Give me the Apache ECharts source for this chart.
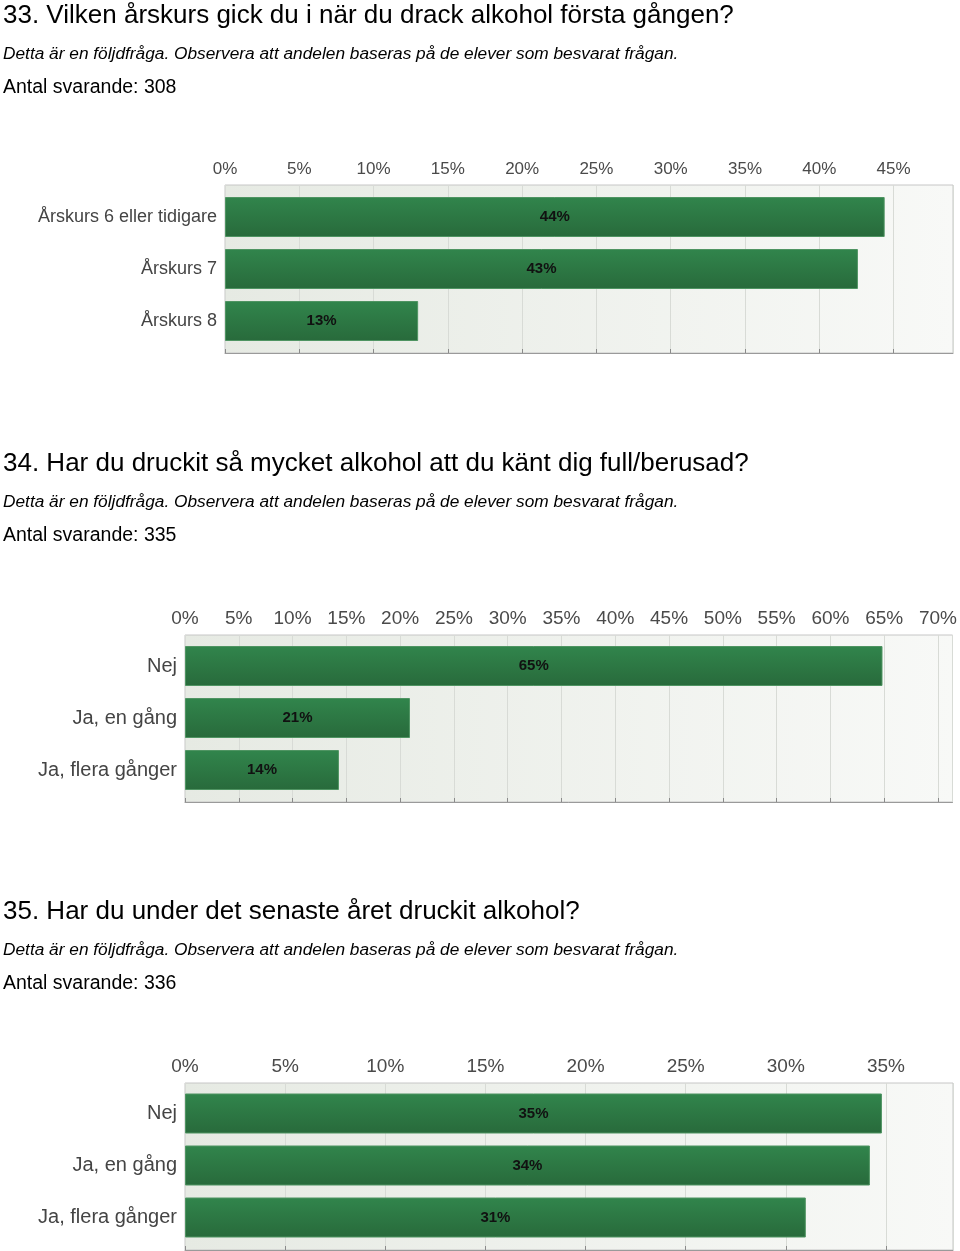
<!DOCTYPE html>
<html>
<head>
<meta charset="utf-8">
<script src="https://cdn.jsdelivr.net/npm/echarts@6/dist/echarts.min.js"></script>
<style>
html,body{margin:0;padding:0;background:#fff;}
#c{width:960px;height:1251px;}
</style>
</head>
<body>
<div id="c"></div>
<script>
// ---- data ----
var titles = [
  '33. Vilken årskurs gick du i när du drack alkohol första gången?',
  '34. Har du druckit så mycket alkohol att du känt dig full/berusad?',
  '35. Har du under det senaste året druckit alkohol?'
];
var noteText = 'Detta är en följdfråga. Observera att andelen baseras på de elever som besvarat frågan.';
var respondents = [308, 335, 336];

var categories1 = ['Årskurs 6 eller tidigare', 'Årskurs 7', 'Årskurs 8'];
var values1 = [44.4, 42.6, 13.0];

var categories2 = ['Nej', 'Ja, en gång', 'Ja, flera gånger'];
var values2 = [64.8, 20.9, 14.3];

var categories3 = ['Nej', 'Ja, en gång', 'Ja, flera gånger'];
var values3 = [34.8, 34.2, 31.0];

var axisMax = [49.0, 71.35, 38.35];
var tickStep = 5;

// ---- layout ----
var layout = [
  {dy: 0,   left: 225, bgTop: 185,  bgH: 168, barTop: 191,    labelSize: 18, tickSize: 17},
  {dy: 448, left: 185, bgTop: 635,  bgH: 167, barTop: 640,    labelSize: 20, tickSize: 19},
  {dy: 896, left: 185, bgTop: 1083, bgH: 167, barTop: 1087.5, labelSize: 20, tickSize: 19}
];
var allCats = [categories1, categories2, categories3];
var allVals = [values1, values2, values3];

var FONT = '"Liberation Sans", Arial, Helvetica, sans-serif';

var option = {
  animation: false,
  backgroundColor: '#ffffff',
  title: [],
  grid: [],
  xAxis: [],
  yAxis: [],
  series: []
};

layout.forEach(function (L, i) {
  option.title.push({
    text: titles[i], left: 3, top: 3 + L.dy, padding: 0,
    textStyle: {fontFamily: FONT, fontSize: 26, fontWeight: 'normal', color: '#000'}
  });
  option.title.push({
    text: noteText, left: 3, top: 46 + L.dy, padding: 0,
    textStyle: {fontFamily: FONT, fontSize: 17.3, fontStyle: 'italic', fontWeight: 'normal', color: '#000'}
  });
  option.title.push({
    text: 'Antal svarande: ' + respondents[i], left: 3, top: 78 + L.dy, padding: 0,
    textStyle: {fontFamily: FONT, fontSize: 19.5, fontWeight: 'normal', color: '#000'}
  });

  var gBg = option.grid.length;
  option.grid.push({
    left: L.left, right: 7, top: L.bgTop, height: L.bgH,
    show: true,
    borderColor: '#c6c6c6', borderWidth: 1,
    backgroundColor: new echarts.graphic.LinearGradient(0, 0, 1, 0, [
      {offset: 0, color: '#e6eae3'},
      {offset: 1, color: '#f8f9f7'}
    ])
  });
  var gBar = option.grid.length;
  option.grid.push({left: L.left, right: 7, top: L.barTop, height: 156});

  // background axis with ticks
  option.xAxis.push({
    type: 'value', gridIndex: gBg, position: 'top',
    min: 0, max: axisMax[i], interval: tickStep,
    axisLine: {show: true, lineStyle: {color: '#9a9a9a', width: 1}},
    axisTick: {show: true, length: 4, lineStyle: {color: '#8a8a8a'}},
    splitLine: {show: true, lineStyle: {color: '#d8dbd6', width: 1}},
    axisLabel: {
      margin: 7, color: '#4a4a4a', fontFamily: FONT, fontSize: L.tickSize,
      showMaxLabel: false,
      formatter: function (v) { return (v % tickStep === 0) ? v + '%' : ''; }
    }
  });
  option.yAxis.push({type: 'value', gridIndex: gBg, show: false, min: 0, max: 1});

  // bar axes
  var xBar = option.xAxis.length;
  option.xAxis.push({type: 'value', gridIndex: gBar, min: 0, max: axisMax[i], show: false});
  var yBar = option.yAxis.length;
  option.yAxis.push({
    type: 'category', gridIndex: gBar, inverse: true,
    data: allCats[i],
    axisLine: {show: false}, axisTick: {show: false},
    axisLabel: {margin: 8, color: '#444', fontFamily: FONT, fontSize: L.labelSize}
  });

  option.series.push({
    type: 'bar', xAxisIndex: xBar, yAxisIndex: yBar,
    data: allVals[i], barWidth: 40,
    itemStyle: {
      color: new echarts.graphic.LinearGradient(0, 0, 0, 1, [
        {offset: 0, color: '#31854c'},
        {offset: 1, color: '#286a3b'}
      ]),
      borderColor: '#4f9462', borderWidth: 1
    },
    label: {
      show: true, position: 'inside',
      formatter: function (p) { return Math.round(p.value) + '%'; },
      fontFamily: FONT, fontSize: 15, fontWeight: 'bold', color: '#111'
    }
  });
});

var chart = echarts.init(document.getElementById('c'), null, {renderer: 'canvas'});
chart.setOption(option);
</script>
</body>
</html>
